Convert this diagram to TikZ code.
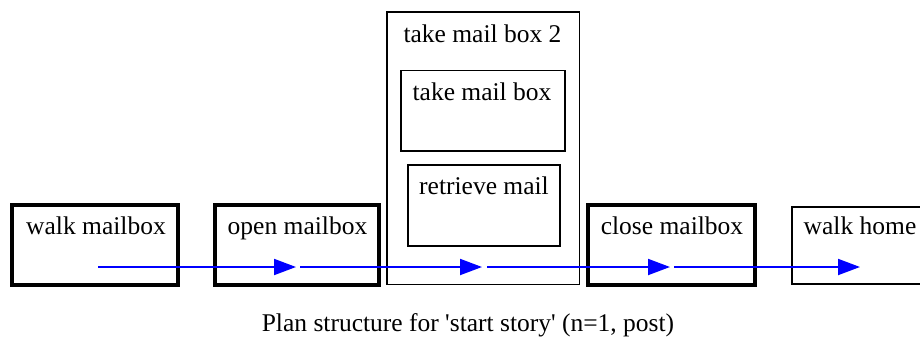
\documentclass[tikz,border=0pt]{standalone}
\usepackage{fontspec}
\setmainfont{Liberation Serif}
\usetikzlibrary{arrows.meta}

\begin{document}
\begin{tikzpicture}[x=1pt,y=-1pt,
    every node/.style={font=\fontsize{25.5}{30}\selectfont,inner sep=0pt},
    stepbox/.style={draw,line width=4pt},
    planbox/.style={draw,line width=1.6pt},
    flow/.style={blue,line width=2pt,-{Triangle[length=22pt,width=16pt]}}]
    \useasboundingbox (0,0) rectangle (920,337);
    % boxes
    \draw[stepbox] (12,205) rectangle (177.5,285);
    \draw[stepbox] (214.5,205) rectangle (379,285);
    \draw[planbox] (387,12) rectangle (579.3,284.5);
    \draw[planbox] (401,70.5) rectangle (565,151);
    \draw[planbox] (407.7,165) rectangle (560,246);
    \draw[stepbox] (588,205) rectangle (755,285);
    \draw[planbox] (792,207) rectangle (930,284);
    % labels
    \node[anchor=base] (walk) at (96,234.5) {walk mailbox};
    \node[anchor=base] (open) at (297.5,234.5) {open mailbox};
    \node[anchor=base] (take2) at (482.5,42.5) {take mail box 2};
    \node[anchor=base] (take) at (482,100) {take mail box};
    \node[anchor=base] (retr) at (484,194) {retrieve mail};
    \node[anchor=base] (close) at (672,234.5) {close mailbox};
    \node[anchor=base] (home) at (860,234.5) {walk home};
    \node[anchor=base] (caption) at (468,331.5) {Plan structure for \textquotesingle start story\textquotesingle\ (n=1, post)};
    % flow
    \coordinate (p0) at (98,267);
    \coordinate (p1) at (298,267);
    \coordinate (p2) at (484.5,267);
    \coordinate (p3) at (672,267);
    \coordinate (p4) at (860,267);
    \draw[flow,shorten >=2pt] (p0) -- (p1);
    \draw[flow,shorten <=2pt,shorten >=2.5pt] (p1) -- (p2);
    \draw[flow,shorten <=2.5pt,shorten >=2pt] (p2) -- (p3);
    \draw[flow,shorten <=2pt] (p3) -- (p4);
\end{tikzpicture}
\end{document}
